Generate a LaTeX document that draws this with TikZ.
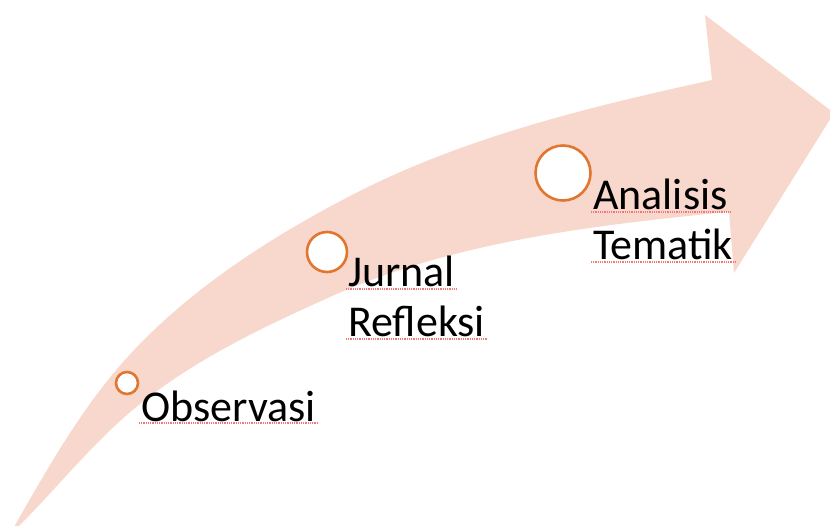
\documentclass[tikz,border=0pt]{standalone}
\usepackage{fontspec}
\setmainfont{Carlito}
\definecolor{arrowfill}{RGB}{248,216,205}
\definecolor{ringc}{RGB}{226,118,46}
\definecolor{spell}{RGB}{240,120,120}
\begin{document}
\begin{tikzpicture}[x=1pt,y=-1pt,
  ring/.style={circle,draw=ringc,line width=2.6pt,fill=white,inner sep=0pt},
  lbl/.style={anchor=base west,inner sep=0pt,font=\fontsize{44}{50}\selectfont},
  squiggle/.style={draw=spell,line width=1.1pt,dash pattern=on 1pt off 0.8pt}]
\useasboundingbox (0,0) rectangle (830,526);
\clip (0,0) rectangle (830,526);
% big curved arrow
\fill[arrowfill] (14,527)
  .. controls (49.7,464.5) and (85.3,401.1) .. (135,349)
  .. controls (195.7,285.3) and (272,236.6) .. (350,196)
  .. controls (462.6,137.5) and (587.9,107.3) .. (712,80)
  -- (705,15) -- (834,113) -- (734,273) -- (729,212) -- (727,212)
  .. controls (592.7,225.4) and (453.1,241.6) .. (330,297)
  .. controls (263.4,326.9) and (197,358.4) .. (140,404)
  .. controls (94.7,440.3) and (59,486) .. (18,527)
  -- cycle;
% circles
\node[ring,minimum size=22pt] (c1) at (127,383) {};
\node[ring,minimum size=40pt] (c2) at (327,252) {};
\node[ring,minimum size=55pt] (c3) at (563,173) {};
% labels
\node[lbl] (t1) at (141,421) {Observasi};
\node[lbl] (t2a) at (348,287) {Jurnal};
\node[lbl] (t2b) at (348,337) {Refleksi};
\node[lbl] (t3a) at (593,210) {Analisis};
\node[lbl] (t3b) at (593,260) {Tematik};
% spell-check underlines
\foreach \n in {t1,t2a,t2b,t3a,t3b}{
  \draw[squiggle] ([shift={(-2,2)}]\n.base west) -- ([shift={(2,2)}]\n.base east);
}
\end{tikzpicture}
\end{document}
